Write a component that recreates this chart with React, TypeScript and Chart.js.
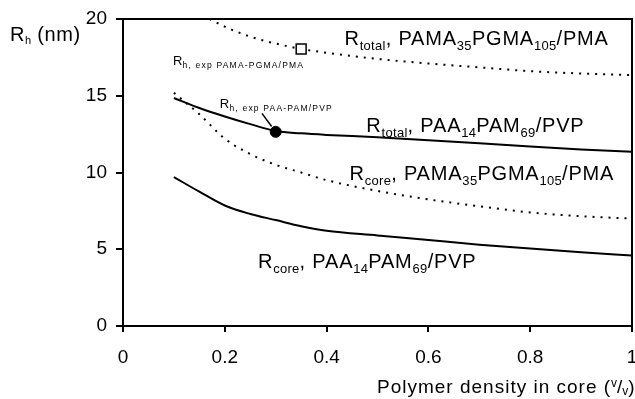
import React, { useEffect, useRef } from "react";
import { Chart, registerables } from "chart.js";

Chart.register(...registerables);

// ---- data ----
const totalPamaX = [0.17, 0.2, 0.25, 0.3, 0.35, 0.4, 0.5, 0.6, 0.7, 0.8, 0.9, 1.0];
const totalPamaY = [20, 19.5, 18.85, 18.4, 18.05, 17.8, 17.4, 17.1, 16.85, 16.6, 16.45, 16.35];

const totalPaaX = [0.1, 0.15, 0.2, 0.25, 0.3, 0.35, 0.4, 0.5, 0.6, 0.7, 0.8, 0.9, 1.0];
const totalPaaY = [14.85, 14.2, 13.65, 13.15, 12.7, 12.55, 12.45, 12.3, 12.1, 11.9, 11.7, 11.5, 11.35];

const corePamaX = [0.1, 0.125, 0.15, 0.2, 0.25, 0.3, 0.35, 0.4, 0.5, 0.6, 0.7, 0.8, 0.9, 1.0];
const corePamaY = [15.2, 14.5, 13.8, 12.2, 11.2, 10.5, 10.0, 9.5, 8.8, 8.25, 7.8, 7.4, 7.15, 7.0];

const corePaaX = [0.1, 0.15, 0.2, 0.25, 0.3, 0.35, 0.4, 0.5, 0.6, 0.7, 0.8, 0.9, 1.0];
const corePaaY = [9.7, 8.75, 7.85, 7.3, 6.9, 6.5, 6.2, 5.9, 5.6, 5.3, 5.05, 4.8, 4.6];

const expPamaX = [0.35];
const expPamaY = [18.05];
const expPaaX = [0.3];
const expPaaY = [12.65];

const xTicks = [0, 0.2, 0.4, 0.6, 0.8, 1];
const yTicks = [0, 5, 10, 15, 20];

const FONT = '"Liberation Sans", Arial, Helvetica, sans-serif';

type Seg = { t: string; size: number; dy?: number; ls?: number };

function drawRich(ctx: CanvasRenderingContext2D, x: number, y: number, segs: Seg[]) {
  let cx = x;
  for (const s of segs) {
    ctx.font = `${s.size}px ${FONT}`;
    (ctx as any).letterSpacing = `${s.ls ?? 0}px`;
    ctx.fillText(s.t, cx, y + (s.dy ?? 0));
    cx += ctx.measureText(s.t).width;
  }
  (ctx as any).letterSpacing = "0px";
}

const big = (t: string): Seg => ({ t, size: 20, ls: 0.8 });
const sub = (t: string): Seg => ({ t, size: 13, dy: 5, ls: 0.3 });

// label anchors in data coordinates (left, baseline)
const curveLabels: { x: number; y: number; segs: Seg[] }[] = [
  { x: 0.435, y: 18.3, segs: [big("R"), sub("total"), big(", PAMA"), sub("35"), big("PGMA"), sub("105"), big("/PMA")] },
  { x: 0.478, y: 12.64, segs: [big("R"), sub("total"), big(", PAA"), sub("14"), big("PAM"), sub("69"), big("/PVP")] },
  { x: 0.445, y: 9.5, segs: [big("R"), sub("core"), big(", PAMA"), sub("35"), big("PGMA"), sub("105"), big("/PMA")] },
  { x: 0.265, y: 3.8, segs: [big("R"), sub("core"), big(", PAA"), sub("14"), big("PAM"), sub("69"), big("/PVP")] },
  { x: 0.098, y: 17.0, segs: [{ t: "R", size: 13, ls: 0.3 }, { t: "h, exp PAMA-PGMA/PMA", size: 8.5, dy: 3, ls: 1.2 }] },
  { x: 0.19, y: 14.2, segs: [{ t: "R", size: 13, ls: 0.3 }, { t: "h, exp PAA-PAM/PVP", size: 8.5, dy: 3, ls: 1.2 }] },
];
const leader = { x1: 0.273, y1: 13.85, x2: 0.292, y2: 13.0 };

const pts = (xs: number[], ys: number[]) => xs.map((x, i) => ({ x, y: ys[i] }));

export default function App() {
  const ref = useRef<HTMLCanvasElement | null>(null);

  useEffect(() => {
    const canvas = ref.current;
    if (!canvas) return;

    const decor = {
      id: "decor",
      afterDraw(chart: any) {
        const ctx: CanvasRenderingContext2D = chart.ctx;
        const a = chart.chartArea;
        const xs = chart.scales.x;
        const ys = chart.scales.y;
        ctx.save();
        // frame top + right
        ctx.strokeStyle = "#000";
        ctx.lineWidth = 2;
        ctx.beginPath();
        ctx.moveTo(a.left, a.top);
        ctx.lineTo(a.right, a.top);
        ctx.lineTo(a.right, a.bottom);
        ctx.stroke();

        ctx.fillStyle = "#000";
        ctx.textBaseline = "alphabetic";
        ctx.textAlign = "left";
        for (const l of curveLabels) {
          drawRich(ctx, xs.getPixelForValue(l.x), ys.getPixelForValue(l.y), l.segs);
        }
        ctx.lineWidth = 1.5;
        ctx.beginPath();
        ctx.moveTo(xs.getPixelForValue(leader.x1), ys.getPixelForValue(leader.y1));
        ctx.lineTo(xs.getPixelForValue(leader.x2), ys.getPixelForValue(leader.y2));
        ctx.stroke();

        // axis titles
        drawRich(ctx, 10, a.top + 22, [
          { t: "R", size: 20, ls: 0.6 },
          { t: "h", size: 11, dy: 3 },
          { t: " (nm)", size: 20, ls: 0.6 },
        ]);
        drawRich(ctx, a.left + 254, chart.height - 6, [
          { t: "Polymer density in core (", size: 19, ls: 1 },
          { t: "v", size: 12, dy: -6 },
          { t: "/", size: 19 },
          { t: "v", size: 12, dy: 2 },
          { t: ")", size: 19 },
        ]);
        ctx.restore();
      },
    };

    const lineBase = {
      borderColor: "#000",
      borderWidth: 2,
      pointRadius: 0,
      cubicInterpolationMode: "monotone",
      fill: false,
      order: 1,
    };

    const chart = new Chart(canvas, {
      type: "line",
      data: {
        datasets: [
          { ...lineBase, data: pts(totalPamaX, totalPamaY), borderDash: [2, 6] },
          { ...lineBase, data: pts(totalPaaX, totalPaaY) },
          { ...lineBase, data: pts(corePamaX, corePamaY), borderDash: [2, 6] },
          { ...lineBase, data: pts(corePaaX, corePaaY) },
          {
            data: pts(expPamaX, expPamaY),
            showLine: false,
            pointStyle: "rect",
            pointRadius: 7,
            pointBackgroundColor: "#fff",
            pointBorderColor: "#000",
            pointBorderWidth: 1.5,
            order: 0,
          },
          {
            data: pts(expPaaX, expPaaY),
            showLine: false,
            pointStyle: "circle",
            pointRadius: 5.5,
            pointBackgroundColor: "#000",
            pointBorderColor: "#000",
            pointBorderWidth: 1,
            order: 0,
          },
        ],
      },
      options: {
        animation: false,
        responsive: false,
        maintainAspectRatio: false,
        layout: { padding: { top: 19, right: 3, left: 0, bottom: 0 }, autoPadding: false } as any,
        plugins: { legend: { display: false }, tooltip: { enabled: false } },
        scales: {
          x: {
            type: "linear",
            min: 0,
            max: 1,
            afterFit: (s: any) => {
              s.height = 73;
              s.paddingLeft = 0;
              s.paddingRight = 0;
            },
            afterBuildTicks: (s: any) => {
              s.ticks = xTicks.map((v) => ({ value: v }));
            },
            ticks: {
              color: "#000",
              font: { family: FONT, size: 19 },
              padding: 14,
              maxRotation: 0,
              autoSkip: false,
              callback: (v: any) => String(v),
            },
            grid: { drawOnChartArea: false, drawTicks: true, tickLength: 6, color: "#000", lineWidth: 2 },
            border: { display: true, color: "#000", width: 2 },
          },
          y: {
            type: "linear",
            min: 0,
            max: 20,
            afterFit: (s: any) => {
              s.width = 123;
              s.paddingTop = 0;
              s.paddingBottom = 0;
            },
            afterBuildTicks: (s: any) => {
              s.ticks = yTicks.map((v) => ({ value: v }));
            },
            ticks: {
              color: "#000",
              font: { family: FONT, size: 19 },
              padding: 9,
              autoSkip: false,
              callback: (v: any) => String(v),
            },
            grid: { drawOnChartArea: false, drawTicks: true, tickLength: 7, color: "#000", lineWidth: 2 },
            border: { display: true, color: "#000", width: 2 },
          },
        },
      },
      plugins: [decor],
    } as any);

    return () => chart.destroy();
  }, []);

  return (
    <canvas
      ref={ref}
      width={635}
      height={399}
      style={{ position: "fixed", left: 0, top: 0, width: 635, height: 399, background: "#fff" }}
    />
  );
}
